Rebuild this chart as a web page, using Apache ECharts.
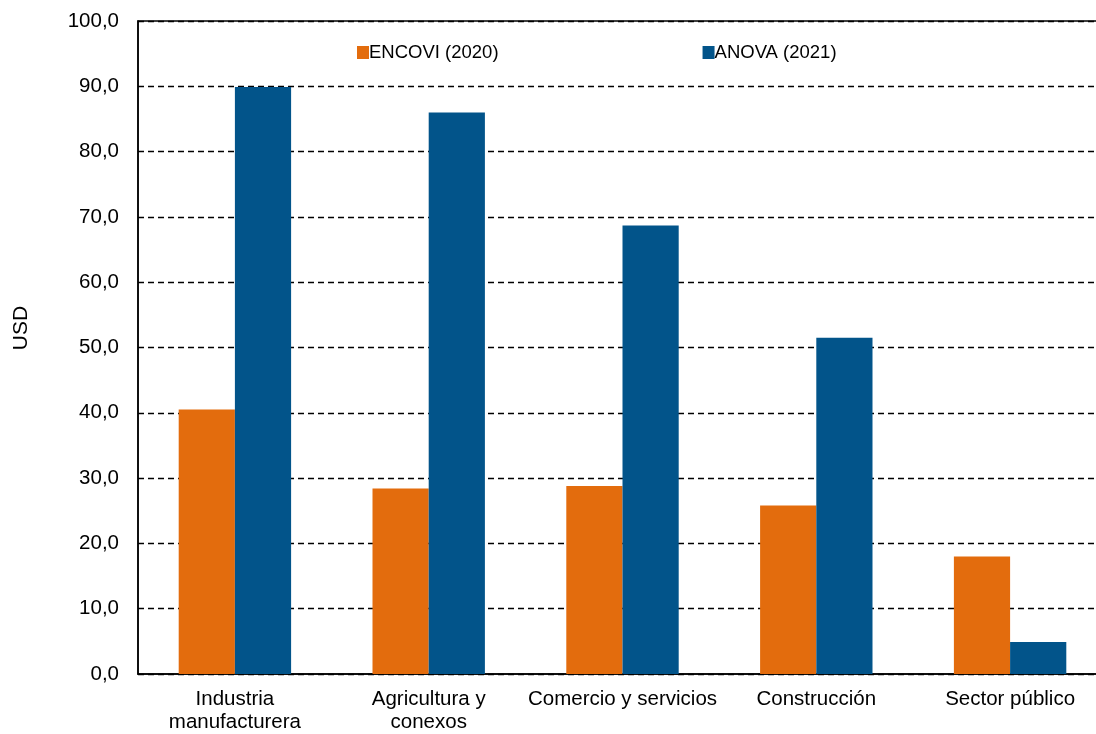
<!DOCTYPE html>
<html><head><meta charset="utf-8">
<script src="https://cdn.jsdelivr.net/npm/echarts@6/dist/echarts.min.js"></script>
<style>html,body{margin:0;padding:0;background:#fff;overflow:hidden}
#wrap{position:relative;width:1096px;height:734px;overflow:hidden}
#c{position:absolute;left:0;top:0;width:1107px;height:734px}</style>
</head><body><div id="wrap"><div id="c"></div></div>
<script>
const categories = ['Industria\nmanufacturera', 'Agricultura y\nconexos', 'Comercio y servicios', 'Construcción', 'Sector público'];
const encovi2020 = [40.5, 28.4, 28.8, 25.8, 18.0];
const anova2021 = [89.9, 86.0, 68.7, 51.5, 4.9];
const seriesNames = ['ENCOVI (2020)', 'ANOVA (2021)'];
const yTicks = { min: 0, max: 100, interval: 10 };
const yName = 'USD';

const font = 'Liberation Sans, Arial, sans-serif';
const chart = echarts.init(document.getElementById('c'));
chart.setOption({
  animation: false,
  textStyle: { fontFamily: font },
  grid: { left: 138, top: 21, right: 0, height: 657, show: true, borderColor: '#000', borderWidth: 1.5, backgroundColor: 'transparent', containLabel: false },
  legend: {
    data: seriesNames, top: 43, left: 357, padding: 0, itemGap: 204, itemWidth: 12, itemHeight: 13, icon: 'rect',
    textStyle: { fontFamily: font, fontSize: 18.5, color: '#000', padding: [0, 0, 0, -5] }
  },
  graphic: [{
    type: 'text', x: 21, y: 328, rotation: Math.PI / 2,
    style: { text: yName, fontFamily: font, fontSize: 21, fill: '#000', align: 'center', verticalAlign: 'middle' }
  }],
  xAxis: {
    type: 'category', data: categories,
    axisLine: { lineStyle: { color: '#000', width: 1.5 } },
    axisTick: { show: false },
    axisLabel: { fontFamily: font, fontSize: 20.5, color: '#000', lineHeight: 23, margin: 14, interval: 0 }
  },
  yAxis: {
    type: 'value', min: yTicks.min, max: yTicks.max, interval: yTicks.interval,
    axisLine: { show: true, lineStyle: { color: '#000', width: 1.5 } },
    axisTick: { show: false },
    axisLabel: { fontFamily: font, fontSize: 20.5, color: '#000', margin: 19, formatter: v => v.toFixed(1).replace('.', ',') },
    splitLine: { lineStyle: { color: '#000', width: 1.3, type: [6, 4] } }
  },
  series: [
    { name: seriesNames[0], type: 'bar', data: encovi2020, itemStyle: { color: '#E36C0D' }, barGap: '0%', barCategoryGap: '42%' },
    { name: seriesNames[1], type: 'bar', data: anova2021, itemStyle: { color: '#02548A' }, barGap: '0%', barCategoryGap: '42%' }
  ]
});
</script></body></html>
